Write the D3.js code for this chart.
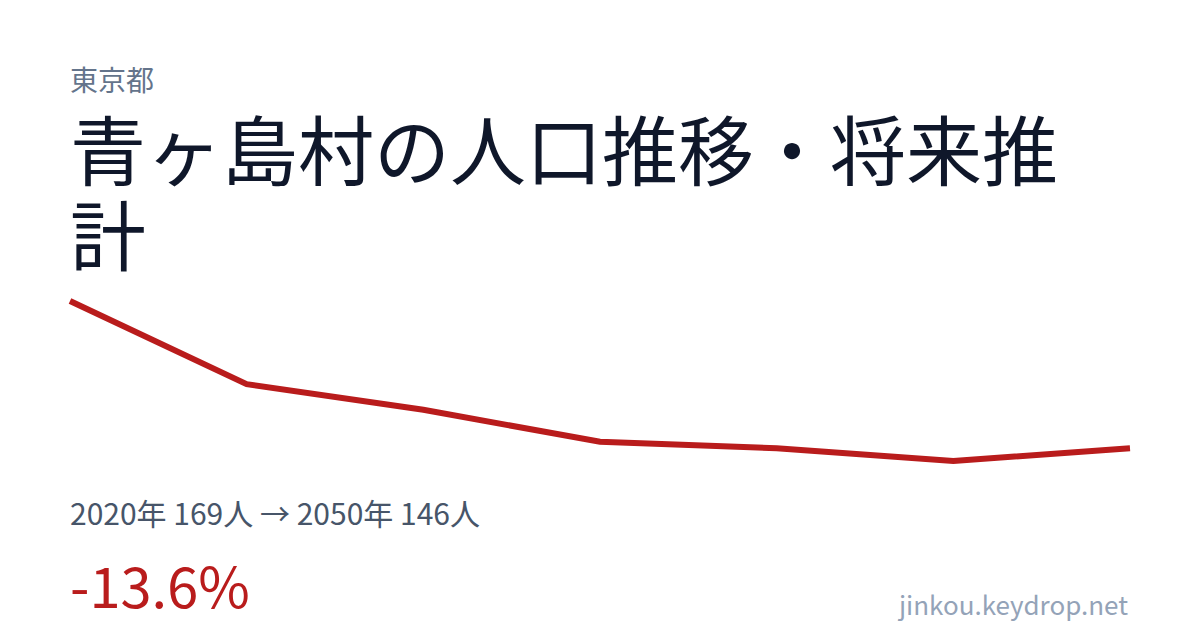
<!DOCTYPE html>
<html>
<head>
<meta charset="UTF-8">
<title>青ヶ島村の人口推移・将来推計</title>
<script src="https://d3js.org/d3.v7.min.js"></script>
<style>
  html, body { margin: 0; padding: 0; background: #fff; }
  body { width: 1200px; height: 630px; overflow: hidden; font-family: "Noto Sans CJK JP", "Noto Sans", sans-serif; }
  svg text { font-family: "Noto Sans CJK JP", "Noto Sans", sans-serif; }
</style>
</head>
<body>
<div id="chart"></div>
<script>
// data
var years = [2020, 2025, 2030, 2035, 2040, 2045, 2050];
var population = [169, 156, 152, 147, 146, 144, 146];
var prefecture = "東京都";
var title = "青ヶ島村の人口推移・将来推計";
var site = "jinkou.keydrop.net";

var width = 1200, height = 630;
var left = 70, right = 1130;

var svg = d3.select("#chart").append("svg")
    .attr("width", width)
    .attr("height", height);

// prefecture label
svg.append("text")
    .attr("x", left).attr("y", 91)
    .attr("font-size", 28)
    .attr("fill", "#64748b")
    .text(prefecture);

// title, wrapped by measured width
var titleText = svg.append("text")
    .attr("x", left).attr("y", 180)
    .attr("font-size", 76)
    .attr("fill", "#0f172a");
var lines = [], cur = "";
var probe = titleText.append("tspan");
for (var i = 0; i < title.length; i++) {
    probe.text(cur + title[i]);
    if (probe.node().getComputedTextLength() > right - left && cur.length) {
        lines.push(cur);
        cur = title[i];
    } else {
        cur += title[i];
    }
}
lines.push(cur);
probe.remove();
titleText.selectAll("tspan")
    .data(lines)
    .enter().append("tspan")
    .attr("x", left)
    .attr("dy", function (d, i) { return i ? 85 : 0; })
    .text(function (d) { return d; });

// line chart
var x = d3.scaleLinear()
    .domain(d3.extent(years))
    .range([left, right]);
var y = d3.scaleLinear()
    .domain(d3.extent(population))
    .range([461, 301]);

svg.append("path")
    .datum(years.map(function (yr, i) { return [yr, population[i]]; }))
    .attr("fill", "none")
    .attr("stroke", "#b91c1c")
    .attr("stroke-width", 6)
    .attr("stroke-linejoin", "miter")
    .attr("d", d3.line()
        .x(function (d) { return x(d[0]); })
        .y(function (d) { return y(d[1]); }));

// summary
var first = population[0], last = population[population.length - 1];
svg.append("text")
    .attr("x", left).attr("y", 525)
    .attr("font-size", 30)
    .attr("fill", "#475569")
    .text(years[0] + "年 " + first + "人 → " + years[years.length - 1] + "年 " + last + "人");

svg.append("text")
    .attr("x", left).attr("y", 608)
    .attr("font-size", 56)
    .attr("fill", "#b91c1c")
    .text(((last - first) / first * 100).toFixed(1) + "%");

svg.append("text")
    .attr("x", 1128).attr("y", 615)
    .attr("text-anchor", "end")
    .attr("font-size", 26)
    .attr("fill", "#94a3b8")
    .text(site);
</script>
</body>
</html>
